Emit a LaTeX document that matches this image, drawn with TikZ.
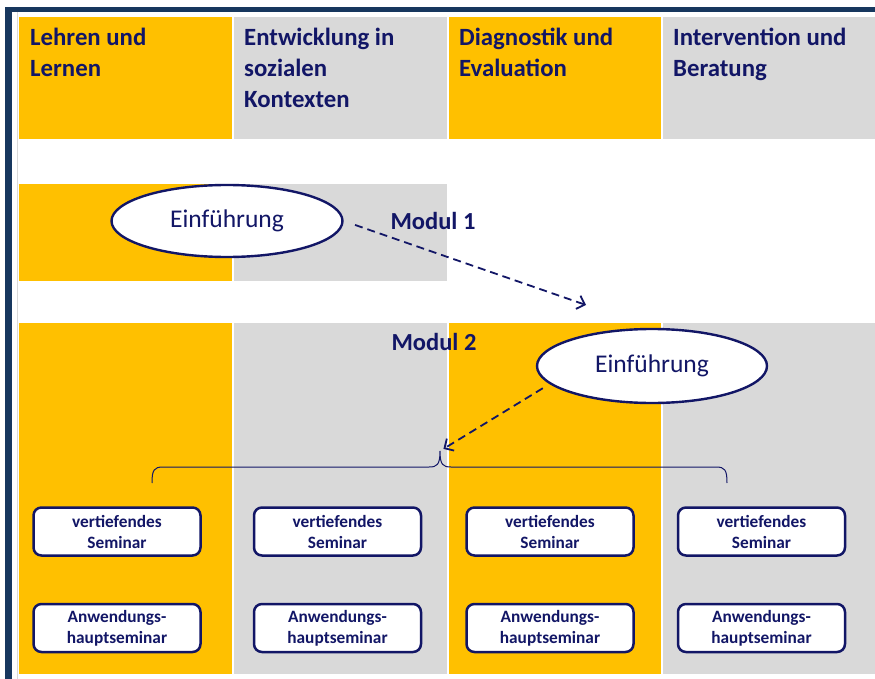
\documentclass[tikz,border=0pt]{standalone}
\usepackage{fontspec}
\setmainfont{Carlito}
\usetikzlibrary{arrows.meta,shapes.geometric}
\definecolor{gold}{RGB}{255,192,0}
\definecolor{lgrey}{RGB}{217,217,217}
\definecolor{navy}{RGB}{18,22,102}
\definecolor{framec}{RGB}{23,55,94}
\tikzset{
  hdr/.style={anchor=north west, inner sep=0pt, align=left, text=navy, font=\fontsize{24.8}{31}\selectfont\bfseries},
  modl/.style={inner sep=0pt, text=navy, font=\fontsize{24.5}{28}\selectfont\bfseries},
  ell/.style={ellipse, draw=navy, line width=2.4pt, fill=white, text=navy, minimum width=231pt, minimum height=72pt, font=\fontsize{25.5}{28}\selectfont},
  sbox/.style={rectangle, rounded corners=8pt, draw=navy, line width=2.5pt, fill=white, text=navy, align=center, minimum width=167pt, minimum height=48pt, inner sep=0pt, font=\fontsize{17.3}{21}\selectfont\bfseries},
  dasharrow/.style={draw=navy, line width=1.8pt, dash pattern=on 8pt off 5pt, -{Straight Barb[length=7pt,width=14pt,line width=1.8pt]}},
  bracestyle/.style={draw=navy, line width=1pt}
}
\begin{document}
\begin{tikzpicture}[x=1pt,y=-1pt]
\useasboundingbox (0,0) rectangle (875,679);
\fill[white] (0,0) rectangle (875,679);
% frame
\fill[framec] (5,7) rectangle (875,12);
\fill[framec] (5,7) rectangle (12,679);
\draw[black!15, line width=0.8pt] (17.5,12) -- (17.5,679);
% header columns
\fill[gold] (19,17) rectangle (232,139);
\fill[lgrey] (234,17) rectangle (447,139);
\fill[gold] (449,17) rectangle (661,139);
\fill[lgrey] (663,17) rectangle (875,139);
\node[hdr] (h1) at (30,28) {Lehren und\\Lernen};
\node[hdr] (h2) at (244,28) {Entwicklung in\\sozialen\\Kontexten};
\node[hdr] (h3) at (459,28) {Diagnostik und\\Evaluation};
\node[hdr] (h4) at (673,28) {Intervention und\\Beratung};
% module 1 row
\fill[gold] (19,184) rectangle (232,281);
\fill[lgrey] (234,184) rectangle (447,281);
% module 2 row
\fill[gold] (19,323) rectangle (232,674);
\fill[lgrey] (234,323) rectangle (447,674);
\fill[gold] (449,323) rectangle (661,674);
\fill[lgrey] (663,323) rectangle (875,674);
% ellipses and labels
\node[ell] (e1) at (227,221) {Einführung};
\node[modl] (m1) at (433,221) {Modul 1};
\node[modl] (m2) at (434,342) {Modul 2};
\node[ell, minimum width=230pt, minimum height=74pt] (e2) at (652,366) {Einführung};
% arrows
\coordinate (t1) at (586,305);
\draw[dasharrow, shorten <=12pt] (e1.east) -- (t1);
\coordinate (bl) at (152,483);
\coordinate (br) at (727,483);
\coordinate (bt) at (440,451);
\draw[bracestyle] (bl) .. controls (152,470) and (154,467) .. (163,467)
  -- (429,467) .. controls (437,467) and (440,465) .. (bt)
  .. controls (440,465) and (443,467) .. (451,467)
  -- (716,467) .. controls (725,467) and (727,470) .. (br);
\draw[dasharrow, shorten <=8pt, shorten >=4pt] (e2.190) -- (bt);
% seminar boxes
\node[sbox] (v1) at (117,531.5) {vertiefendes\\Seminar};
\node[sbox] (v2) at (337.5,531.5) {vertiefendes\\Seminar};
\node[sbox] (v3) at (550,531.5) {vertiefendes\\Seminar};
\node[sbox] (v4) at (761.5,531.5) {vertiefendes\\Seminar};
\node[sbox] (a1) at (117,628) {Anwendungs-\\hauptseminar};
\node[sbox] (a2) at (337.5,628) {Anwendungs-\\hauptseminar};
\node[sbox] (a3) at (550,628) {Anwendungs-\\hauptseminar};
\node[sbox] (a4) at (761.5,628) {Anwendungs-\\hauptseminar};
\end{tikzpicture}
\end{document}
